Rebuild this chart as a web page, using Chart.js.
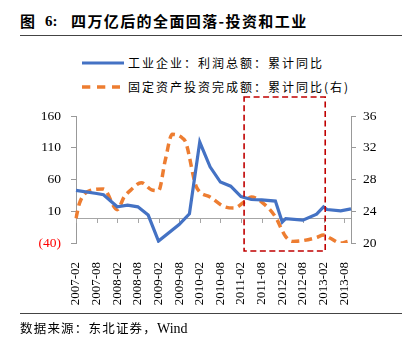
<!DOCTYPE html>
<html>
<head>
<meta charset="utf-8">
<script src="https://cdn.jsdelivr.net/npm/chart.js@4"></script>
<style>
  html, body { margin:0; padding:0; background:#fff; }
  body { width:407px; height:344px; position:relative; overflow:hidden; }
  .abs { position:absolute; white-space:nowrap; }
  .cjk { font-family:"Noto Sans CJK SC", sans-serif; }
  .serif { font-family:"Liberation Serif", "DejaVu Serif", serif; }
</style>
</head>
<body>
<div class="abs cjk" style="left:20px;top:12px;font-weight:bold;font-size:15px;line-height:18px;">图</div>
<div class="abs serif" style="left:45px;top:12px;font-weight:bold;font-size:15px;line-height:18px;">6:</div>
<div class="abs cjk" style="left:71px;top:12px;font-weight:bold;font-size:15px;line-height:18px;letter-spacing:1.4px;">四万亿后的全面回落-投资和工业</div>
<div class="abs" style="left:20px;top:35px;width:382px;height:1px;background:#444;"></div>

<svg class="abs" style="left:80px;top:56px;" width="46" height="40">
  <line x1="2" y1="7" x2="44" y2="7" stroke="#4472C4" stroke-width="3"/>
  <line x1="2" y1="31" x2="40" y2="31" stroke="#ED7D31" stroke-width="3.5" stroke-dasharray="8.3,6.7"/>
</svg>
<div class="abs cjk" style="left:128px;top:55px;font-size:12px;line-height:16px;letter-spacing:2px;">工业企业：利润总额：累计同比</div>
<div class="abs cjk" style="left:128px;top:79px;font-size:12px;line-height:16px;letter-spacing:2px;">固定资产投资完成额：累计同比(右)</div>

<canvas id="c" width="407" height="344" class="abs" style="left:0;top:0;"></canvas>

<div class="abs" style="left:20px;top:313px;width:382px;height:1px;background:#444;"></div>
<div class="abs cjk" style="left:20px;top:319px;font-size:12.5px;line-height:17px;letter-spacing:1.2px;">数据来源：东北证券，<span class="serif" style="font-size:14px;letter-spacing:0;">Wind</span></div>

<script>
// ---- data ----
const tickLabels = ['2007-02','2007-08','2008-02','2008-08','2009-02','2009-08','2010-02',
                    '2010-08','2011-02','2011-08','2012-02','2012-08','2013-02','2013-08'];

// monthly category axis 2007-02 .. 2013-10
const months = [];
for (let y = 2007; y <= 2013; y++) {
  for (let m = 1; m <= 12; m++) {
    if (y === 2007 && m < 2) continue;
    if (y === 2013 && m > 10) continue;
    months.push(y + '-' + String(m).padStart(2, '0'));
  }
}

// 工业企业:利润总额:累计同比 (left axis)
const profitMonths = ['2007-02','2007-08','2007-10','2008-02','2008-05','2008-08','2008-11','2009-02',
                      '2009-08','2009-11','2010-02','2010-05','2010-08','2010-11','2011-02','2011-05',
                      '2011-08','2011-12','2012-02','2012-03','2012-08','2012-12','2013-02','2013-03',
                      '2013-07','2013-10'];
const profitValues = [43, 38, 36, 17, 19.5, 17, 4, -37,
                      -11, 6, 119, 80, 56, 49.5, 33, 28.5,
                      28, 26, -7, -1.5, -4, 5.4, 17, 12.7,
                      10.6, 13.7];

// 固定资产投资完成额:累计同比 (right axis)
const faiMonths = ['2007-02','2007-03','2007-06','2007-10','2008-02','2008-04','2008-06','2008-09',
                   '2008-12','2009-02','2009-04','2009-06','2009-09','2009-10','2010-01','2010-05',
                   '2010-09','2010-12','2011-03','2011-05','2011-09','2011-12','2012-03','2012-05',
                   '2012-08','2012-12','2013-02','2013-04','2013-07','2013-09'];
const faiValues = [23.1, 25.0, 26.6, 26.8, 24.2, 25.8, 26.7, 27.6,
                   26.7, 26.6, 30.5, 33.7, 33.2, 32.6, 27.1, 25.8,
                   24.6, 24.4, 25.2, 25.8, 24.8, 23.3, 20.8, 20.2,
                   20.3, 20.7, 21.0, 20.6, 20.0, 20.2];

// highlighted period (red dashed box), in category units
const boxStart = '2011-03', boxEnd = '2013-02';

const serif = '"Liberation Serif", "DejaVu Serif", serif';

const decorPlugin = {
  id: 'decor',
  beforeDatasetsDraw(chart) {
    const {ctx, chartArea, scales} = chart;
    const y0 = scales.y.getPixelForValue(0);
    ctx.save();
    ctx.strokeStyle = '#a6a6a6';
    ctx.lineWidth = 1;
    ctx.beginPath();
    ctx.moveTo(chartArea.left, Math.round(y0) + 0.5);
    ctx.lineTo(chartArea.right, Math.round(y0) + 0.5);
    tickLabels.forEach(l => {
      const x = Math.round(scales.x.getPixelForValue(months.indexOf(l))) + 0.5;
      ctx.moveTo(x, Math.round(y0));
      ctx.lineTo(x, Math.round(y0) + 5);
    });
    ctx.stroke();
    ctx.restore();
  },
  afterDatasetsDraw(chart) {
    const {ctx, scales} = chart;
    const x1 = scales.x.getPixelForValue(months.indexOf(boxStart) - 0.1);
    const x2 = scales.x.getPixelForValue(months.indexOf(boxEnd) + 0.5);
    ctx.save();
    ctx.strokeStyle = '#C00000';
    ctx.lineWidth = 1.6;
    ctx.setLineDash([6, 3.5]);
    ctx.strokeRect(x1, 97, x2 - x1, 154);
    ctx.restore();
  }
};

new Chart(document.getElementById('c'), {
  type: 'line',
  data: {
    labels: months,
    datasets: [
      {
        label: '工业企业:利润总额:累计同比',
        data: profitMonths.map((m, i) => ({x: m, y: profitValues[i]})),
        borderColor: '#4472C4',
        borderWidth: 3.2,
        pointRadius: 0,
        tension: 0,
        yAxisID: 'y',
        order: 1
      },
      {
        label: '固定资产投资完成额:累计同比(右)',
        data: faiMonths.map((m, i) => ({x: m, y: faiValues[i]})),
        borderColor: '#ED7D31',
        borderWidth: 3.5,
        borderDash: [8, 5],
        pointRadius: 0,
        tension: 0.3,
        cubicInterpolationMode: 'monotone',
        yAxisID: 'y1',
        order: 2
      }
    ]
  },
  options: {
    responsive: false,
    animation: false,
    layout: {padding: {top: 116, left: 0, right: 0, bottom: 0}},
    plugins: {legend: {display: false}, tooltip: {enabled: false}},
    scales: {
      x: {
        type: 'category',
        offset: false,
        grid: {display: false},
        border: {display: false},
        ticks: {
          autoSkip: false,
          maxRotation: 90,
          minRotation: 90,
          padding: 11,
          color: '#000',
          font: {family: serif, size: 13},
          callback: (v, i) => tickLabels.includes(months[i]) ? months[i] : ''
        },
        afterFit: s => { s.height = 101; }
      },
      y: {
        position: 'left',
        min: -40, max: 160,
        grid: {drawOnChartArea: false, tickLength: 5, color: '#999'},
        border: {color: '#999'},
        ticks: {
          stepSize: 50,
          padding: 10,
          font: {family: serif, size: 13.5},
          color: c => c.tick.value < 0 ? '#FF0000' : '#000',
          callback: v => v < 0 ? '(' + (-v) + ')' : String(v)
        },
        afterFit: s => { s.width = 76; }
      },
      y1: {
        position: 'right',
        min: 20, max: 36,
        grid: {drawOnChartArea: false, tickLength: 5, color: '#999'},
        border: {color: '#999'},
        ticks: {
          stepSize: 2,
          padding: 7,
          color: '#000',
          font: {family: serif, size: 13.5}
        },
        afterFit: s => { s.width = 56; }
      }
    }
  },
  plugins: [decorPlugin]
});
</script>
</body>
</html>
